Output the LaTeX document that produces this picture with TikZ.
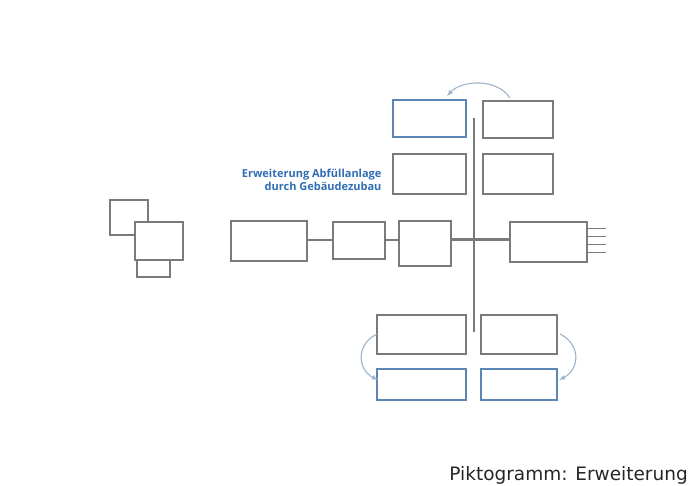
\documentclass[tikz,border=0pt]{standalone}
\usepackage{fontspec}
\setmainfont{DejaVu Sans}
\newfontfamily\titlefont{Open Sans}
\definecolor{boxgray}{HTML}{7A7A7A}
\definecolor{boxblue}{HTML}{5C86B4}
\definecolor{arrowblue}{HTML}{9DB3CC}
\definecolor{titleblue}{HTML}{2F6DB5}
\tikzset{
	box/.style={rectangle,draw=boxgray,line width=1.5pt,fill=white,inner sep=0pt},
	bluebox/.style={box,draw=boxblue},
	bar/.style={draw=boxgray,line width=2.2pt},
	move/.style={->,>=latex,draw=arrowblue,line width=1.1pt}
}
\begin{document}
\begin{tikzpicture}[x=1pt,y=-1pt]
	\useasboundingbox (0,0) rectangle (691,486);
		
		\node(tl) at (429.5,118.5)[bluebox,minimum width=73pt,minimum height=37pt]{};
		\node(tr) at (518,119.5)[box,minimum width=70pt,minimum height=37pt]{};
		\node(ml) at (429.5,174)[box,minimum width=73pt,minimum height=40pt]{};
		\node(mr) at (518,174)[box,minimum width=70pt,minimum height=40pt]{};
		
		\node(g1) at (129,217.5)[box,minimum width=38pt,minimum height=35pt]{};
		\node(g3) at (153.5,261)[box,minimum width=33pt,minimum height=32pt]{};
		\node(g2) at (159,241)[box,minimum width=48pt,minimum height=38pt]{};
		
		\node(k1) at (269,241)[box,minimum width=76pt,minimum height=40pt]{};
		\node(k2) at (359,240.5)[box,minimum width=52pt,minimum height=37pt]{};
		\node(k3) at (425,243.5)[box,minimum width=52pt,minimum height=45pt]{};
		\node(k4) at (548.5,242)[box,minimum width=77pt,minimum height=40pt]{};
		
		\node(bl1) at (421.5,334.5)[box,minimum width=89pt,minimum height=39pt]{};
		\node(br1) at (519,334.5)[box,minimum width=76pt,minimum height=39pt]{};
		\node(bl2) at (421.5,384.5)[bluebox,minimum width=89pt,minimum height=31pt]{};
		\node(br2) at (519,384.5)[bluebox,minimum width=76pt,minimum height=31pt]{};
		
		\node(title) at (385,180)[anchor=east,align=right,text=titleblue,font=\titlefont\bfseries\fontsize{11}{13}\selectfont]{Erweiterung Abfüllanlage\\durch Gebäudezubau};
		\node(caption) at (689,486)[anchor=south east,inner sep=1pt,font=\fontsize{18.5}{21}\selectfont,text=black!85]{Piktogramm: Erweiterung};
		
		\coordinate(vtop) at (474,118);
		\coordinate(vbot) at (474,332);
			\draw[bar] (vtop) -- (vbot);
			\draw[bar] (k1.east |- 0,240) -- (k2.west |- 0,240);
			\draw[bar] (k2.east |- 0,240) -- (k3.west |- 0,240);
			\draw[bar,line width=3pt] (k3.east |- 0,240) -- (k4.west |- 0,240);
			\foreach \y in {228,236,244,252}
				\draw[draw=boxgray,line width=0.6pt] (k4.east |- 0,\y) -- +(18,0);
		
		\coordinate(a1) at (510,98);
		\coordinate(a2) at (447,96);
		\coordinate(b1) at (377,334);
		\coordinate(b2) at (378,380);
		\coordinate(c1) at (560,334);
		\coordinate(c2) at (559,380);
			\draw[move] (a1) .. controls (497,78) and (462,80) .. (a2);
			\draw[move] (b1) .. controls (355,345) and (358,370) .. (b2);
			\draw[move] (c1) .. controls (582,345) and (579,370) .. (c2);
		
	\end{tikzpicture}
\end{document}
